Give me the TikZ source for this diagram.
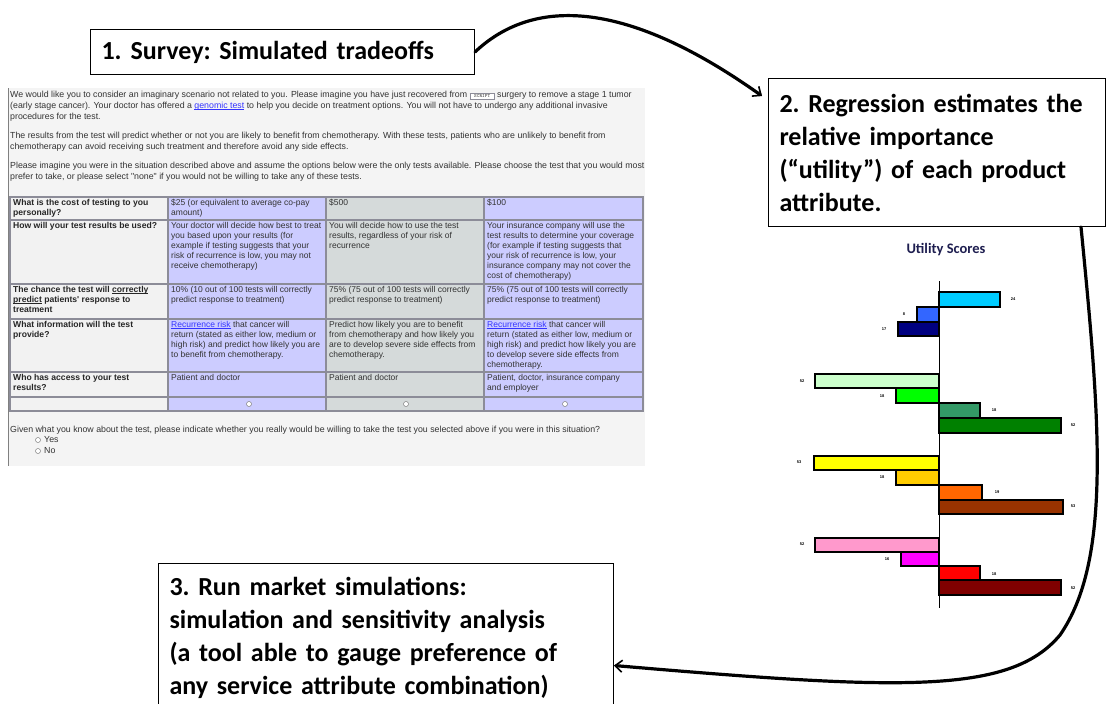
\documentclass[tikz,border=0pt]{standalone}
\usepackage{fontspec}
\setmainfont{Carlito}
\newfontfamily\websans{Liberation Sans}
\usetikzlibrary{arrows.meta}

\definecolor{pagegray}{HTML}{F4F4F4}
\definecolor{headgray}{HTML}{F2F2F2}
\definecolor{lavcell}{HTML}{CCCCFF}
\definecolor{sagecell}{HTML}{D5DADA}
\definecolor{cellline}{HTML}{8C8C98}
\definecolor{webtext}{HTML}{333333}
\definecolor{linkblue}{HTML}{3333FF}
\definecolor{titlenavy}{HTML}{1E1E50}
\definecolor{barcyan}{HTML}{00CCFF}
\definecolor{barblue}{HTML}{3366FF}
\definecolor{barnavy}{HTML}{000080}
\definecolor{barmint}{HTML}{CCFFCC}
\definecolor{barlime}{HTML}{00FF00}
\definecolor{barsea}{HTML}{339966}
\definecolor{bargreen}{HTML}{008000}
\definecolor{baryellow}{HTML}{FFFF00}
\definecolor{bargold}{HTML}{FFCC00}
\definecolor{barorange}{HTML}{FF6600}
\definecolor{barbrown}{HTML}{993300}
\definecolor{barpink}{HTML}{FF99CC}
\definecolor{barmagenta}{HTML}{FF00FF}
\definecolor{barred}{HTML}{FF0000}
\definecolor{barmaroon}{HTML}{800000}

\newcommand{\webunder}[1]{{\setbox0\hbox{#1}\rlap{\rule[-1.3pt]{\wd0}{0.5pt}}\box0}}
\newcommand{\weblink}[1]{\textcolor{linkblue}{\webunder{#1}}}

\tikzset{
	stepbox/.style={draw=black, line width=1pt, fill=white, align=left,
		inner xsep=11pt, inner ysep=6pt, anchor=north west,
		font=\bfseries\fontsize{26}{33}\selectfont\frenchspacing},
	flow/.style={line width=3.2pt, line cap=round,
		-{Straight Barb[length=7pt,width=12pt,line width=1.6pt]}},
	webtext/.style={anchor=north west, inner sep=0pt, align=left, text=webtext,
		font=\websans\fontsize{8.8}{11}\selectfont},
	webcell/.style={anchor=north west, inner sep=0pt, align=left, text=webtext,
		font=\websans\fontsize{8.5}{10}\selectfont},
	webhead/.style={webcell, font=\websans\bfseries\fontsize{8.6}{10}\selectfont, text=black!85},
	cellrule/.style={draw=cellline, line width=1.4pt},
	radio/.style={draw=gray, fill=white, line width=0.5pt},
	bar/.style={draw=black, line width=1.1pt},
	score/.style={inner sep=0pt, font=\websans\bfseries\fontsize{4}{4}\selectfont}
}

\begin{document}
\begin{tikzpicture}[x=1pt,y=-1pt]
			\useasboundingbox (0,0) rectangle (1106,704);
			\fill[white] (0,0) rectangle (1106,704);

			\fill[pagegray] (8,88) rectangle (645,466);
			\draw[gray, line width=0.8pt] (8,88) -- (8,466);
			\node[webtext] (intro) at (10,91) {We would like you to consider an imaginary scenario not related to you. Please imagine you have just recovered from {\setlength{\fboxsep}{1.5pt}\fcolorbox{cellline}{white}{\fontsize{5}{5}\selectfont\ttfamily\ SCRIPT\ }} surgery to remove a stage 1 tumor\\(early stage cancer). Your doctor has offered a \weblink{genomic test} to help you decide on treatment options. You will not have to undergo any additional invasive\\procedures for the test.};
			\node[webtext] (results) at (10,132) {The results from the test will predict whether or not you are likely to benefit from chemotherapy. With these tests, patients who are unlikely to benefit from\\chemotherapy can avoid receiving such treatment and therefore avoid any side effects.};
			\node[webtext] (imagine) at (10,162) {Please imagine you were in the situation described above and assume the options below were the only tests available. Please choose the test that you would most\\prefer to take, or please select "none" if you would not be willing to take any of these tests.};

			\fill[headgray] (10,197) rectangle (168,411);
			\fill[lavcell] (168,197) rectangle (326,411);
			\fill[sagecell] (326,197) rectangle (484,411);
			\fill[lavcell] (484,197) rectangle (643,411);
			\draw[cellrule] (10,197) rectangle (643,411);
			\draw[cellrule] (10,220) -- (643,220);
			\draw[cellrule] (10,284) -- (643,284);
			\draw[cellrule] (10,319) -- (643,319);
			\draw[cellrule] (10,372) -- (643,372);
			\draw[cellrule] (10,397) -- (643,397);
			\draw[cellrule] (168,197) -- (168,411);
			\draw[cellrule] (326,197) -- (326,411);
			\draw[cellrule] (484,197) -- (484,411);

			\node[webhead] (c11) at (13,199) {What is the cost of testing to you\\personally?};
			\node[webhead] (c21) at (13,222) {How will your test results be used?};
			\node[webhead] (c31) at (13,286) {The chance the test will \webunder{correctly}\\\webunder{predict} patients' response to\\treatment};
			\node[webhead] (c41) at (13,321) {What information will the test\\provide?};
			\node[webhead] (c51) at (13,374) {Who has access to your test\\results?};

			\node[webcell] (c12) at (171,199) {\$25 (or equivalent to average co-pay\\amount)};
			\node[webcell] (c13) at (329,199) {\$500};
			\node[webcell] (c14) at (487,199) {\$100};
			\node[webcell] (c22) at (171,222) {Your doctor will decide how best to treat\\you based upon your results (for\\example if testing suggests that your\\risk of recurrence is low, you may not\\receive chemotherapy)};
			\node[webcell] (c23) at (329,222) {You will decide how to use the test\\results, regardless of your risk of\\recurrence};
			\node[webcell] (c24) at (487,222) {Your insurance company will use the\\test results to determine your coverage\\(for example if testing suggests that\\your risk of recurrence is low, your\\insurance company may not cover the\\cost of chemotherapy)};
			\node[webcell] (c32) at (171,286) {10\% (10 out of 100 tests will correctly\\predict response to treatment)};
			\node[webcell] (c33) at (329,286) {75\% (75 out of 100 tests will correctly\\predict response to treatment)};
			\node[webcell] (c34) at (487,286) {75\% (75 out of 100 tests will correctly\\predict response to treatment)};
			\node[webcell] (c42) at (171,321) {\weblink{Recurrence risk} that cancer will\\return (stated as either low, medium or\\high risk) and predict how likely you are\\to benefit from chemotherapy.};
			\node[webcell] (c43) at (329,321) {Predict how likely you are to benefit\\from chemotherapy and how likely you\\are to develop severe side effects from\\chemotherapy.};
			\node[webcell] (c44) at (487,321) {\weblink{Recurrence risk} that cancer will\\return (stated as either low, medium or\\high risk) and predict how likely you are\\to develop severe side effects from\\chemotherapy.};
			\node[webcell] (c52) at (171,374) {Patient and doctor};
			\node[webcell] (c53) at (329,374) {Patient and doctor};
			\node[webcell] (c54) at (487,374) {Patient, doctor, insurance company\\and employer};
			\draw[radio] (249,404) circle (2.5);
			\draw[radio] (406,404) circle (2.5);
			\draw[radio] (565,404) circle (2.5);

			\node[webtext, anchor=west] (question) at (10,430) {Given what you know about the test, please indicate whether you really would be willing to take the test you selected above if you were in this situation?};
			\draw[radio] (38,440) circle (2.5);
			\node[webtext, anchor=west] (yes) at (44,440) {Yes};
			\draw[radio] (38,451) circle (2.5);
			\node[webtext, anchor=west] (no) at (44,451) {No};

			\node[font=\bfseries\fontsize{14.5}{16}\selectfont, text=titlenavy] (charttitle) at (946,250) {Utility Scores};
			\draw[bar, fill=barcyan] (939,292) rectangle (1000,307);
			\draw[bar, fill=barblue] (917,307) rectangle (939,322);
			\draw[bar, fill=barnavy] (898,322) rectangle (939,336);
			\node[score] (u1) at (1013,299) {24};
			\node[score] (u2) at (904,314) {8};
			\node[score] (u3) at (884,329) {17};
			\draw[bar, fill=barmint] (815,374) rectangle (939,388);
			\draw[bar, fill=barlime] (896,388) rectangle (939,403);
			\draw[bar, fill=barsea] (939,403) rectangle (980,418);
			\draw[bar, fill=bargreen] (939,418) rectangle (1061,433);
			\node[score] (u4) at (802,381) {52};
			\node[score] (u5) at (882,396) {18};
			\node[score] (u6) at (994,410) {18};
			\node[score] (u7) at (1073,425) {52};
			\draw[bar, fill=baryellow] (814,456) rectangle (939,470);
			\draw[bar, fill=bargold] (896,470) rectangle (939,485);
			\draw[bar, fill=barorange] (939,485) rectangle (982,500);
			\draw[bar, fill=barbrown] (939,500) rectangle (1063,514);
			\node[score] (u8) at (799,462) {53};
			\node[score] (u9) at (882,477) {18};
			\node[score] (u10) at (997,492) {19};
			\node[score] (u11) at (1073,506) {53};
			\draw[bar, fill=barpink] (815,538) rectangle (939,552);
			\draw[bar, fill=barmagenta] (901,552) rectangle (939,566);
			\draw[bar, fill=barred] (939,566) rectangle (980,580);
			\draw[bar, fill=barmaroon] (939,580) rectangle (1061,595);
			\node[score] (u12) at (802,544) {52};
			\node[score] (u13) at (887,559) {16};
			\node[score] (u14) at (994,574) {18};
			\node[score] (u15) at (1073,588) {52};
			\draw[line width=1pt] (939,281) -- (939,608);

			\node[stepbox, text width=362pt, minimum height=45pt] (stepone) at (90,29) {1.\hspace{9pt}Survey: Simulated tradeoffs};
			\node[stepbox, text width=315pt, minimum height=148pt] (steptwo) at (768,78) {2. Regression estimates the\\relative importance\\(“utility”) of each product\\attribute.};
			\node[stepbox, text width=433pt, minimum height=148pt] (stepthree) at (158,563) {3. Run market simulations:\\simulation and sensitivity analysis\\(a tool able to gauge preference of\\any service attribute combination)};

			\draw[flow] (stepone.east) .. controls (530,0) and (620,-5) .. ([xshift=-6pt,yshift=-18pt]steptwo.north west);
			\draw[flow] ([xshift=-25pt]steptwo.south east) .. controls (1100,420) and (1112,560) .. (1060,635) .. controls (1010,695) and (900,690) .. ([yshift=-28pt]stepthree.east);
\end{tikzpicture}
\end{document}
